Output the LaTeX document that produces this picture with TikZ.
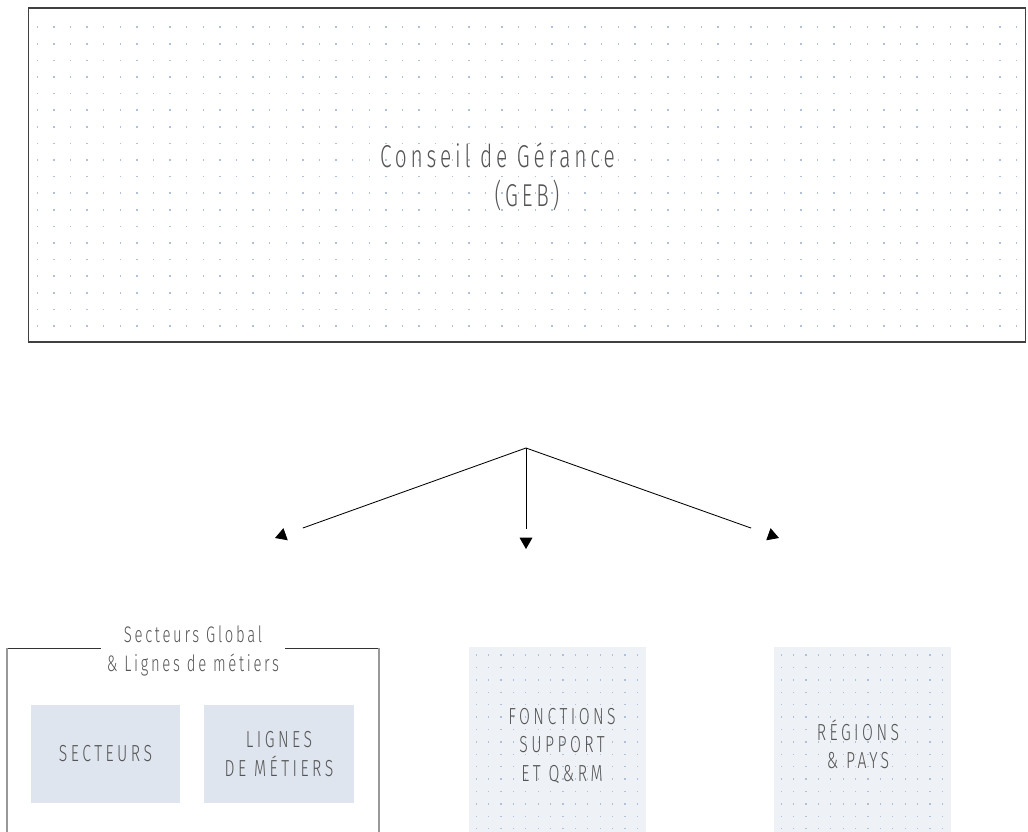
\documentclass[tikz,border=0pt]{standalone}
\usepackage{fontspec}
\newfontfamily\dinfont{Fira Sans}[UprightFont=* Light, FakeStretch=0.66, LetterSpace=12]
\newfontfamily\dinwide{Fira Sans}[UprightFont=* Light, FakeStretch=0.68, LetterSpace=15]
\usetikzlibrary{arrows.meta,positioning}

\definecolor{dotblue}{HTML}{AFC0DA}
\definecolor{paleblue}{HTML}{EEF1F6}
\definecolor{unitblue}{HTML}{DEE5EE}
\definecolor{labelgray}{HTML}{555555}

\begin{document}
\begin{tikzpicture}[x=0.025cm,y=-0.025cm,>={Triangle[length=8pt,width=9pt]},
	Edge/.style={black,line width=0.6pt},
	TipOnly/.style={->,black,line width=0.6pt,line cap=butt,dash pattern=on 0pt off 4000pt},
	Geb/.style={rectangle,draw=black!75,line width=0.8pt,minimum width=24.9cm,minimum height=8.35cm,inner sep=0pt},
	Unit/.style={rectangle,fill=unitblue,minimum width=3.725cm,minimum height=2.45cm,inner sep=0pt,
		text=labelgray,align=center,font=\dinwide\fontsize{16.5}{20}\selectfont},
	Support/.style={rectangle,fill=paleblue,minimum width=4.425cm,minimum height=4.625cm,inner sep=0pt},
	BoxText/.style={text=labelgray,align=center,font=\dinwide\fontsize{16.5}{20}\selectfont},
	TitleText/.style={text=labelgray,align=center,font=\dinfont\fontsize{22.5}{27.5}\selectfont},
	GroupText/.style={text=labelgray,align=center,inner xsep=4pt,font=\dinfont\fontsize{16}{20}\selectfont},
	FrameTop/.style={draw=black!80,line width=0.7pt},
	FrameSide/.style={draw=black!40,line width=1.1pt},
	Dot/.style={fill=dotblue},
]
	\useasboundingbox (0,0) rectangle (1028,832);

	% top board
	\node[Geb] (geb) at (527,175) {};
	\foreach \i in {0,...,59}
		\foreach \j in {0,...,18}
			\fill[Dot] (36.5+\i*16.6,26.5+\j*16.6) rectangle ++(1.5,1.5);
	\node[TitleText] (gebtext) at (527,177) {Conseil de Gérance\hspace*{42pt}\\(GEB)};

	% split (lines stop short of the tips)
	\coordinate (split) at (526,448);
	\coordinate (endL) at (275,538);
	\coordinate (endM) at (526,549);
	\coordinate (endR) at (779,538);
	\path
	(split) edge[Edge,shorten >=21pt] (endL)
	(split) edge[Edge,shorten >=14pt] (endM)
	(split) edge[Edge,shorten >=21pt] (endR)
	(split) edge[TipOnly] (endL)
	(split) edge[TipOnly] (endM)
	(split) edge[TipOnly] (endR)
	;

	% global sectors group
	\node[GroupText] (grp) at (193,651) {Secteurs Global\\\& Lignes de métiers};
	\coordinate (frameTL) at (7,648);
	\coordinate (frameTR) at (379,648);
	\draw[FrameTop] (frameTL) -- (frameTL -| grp.west);
	\draw[FrameTop] (grp.east |- frameTR) -- (frameTR);
	\draw[FrameSide] (frameTL) -- (7,832);
	\draw[FrameSide] (frameTR) -- (379,832);
	\node[Unit] (sect) at (105.5,754) {SECTEURS};
	\node[Unit] (lignes) at (279,754) {LIGNES\\DE MÉTIERS};

	% support functions
	\node[Support] (fonc) at (557.5,739.5) {};
	\node[Support] (regions) at (862.5,739.5) {};
	\foreach \i in {0,...,13}
		\foreach \j in {0,...,14} {
			\fill[Dot] (475.5+\i*12.4,654.5+\j*12.4) rectangle ++(1.3,1.3);
			\fill[Dot] (780.5+\i*12.4,654.5+\j*12.4) rectangle ++(1.3,1.3);
		}
	\node[BoxText] (fonctext) at (562,746) {FONCTIONS\\SUPPORT\\ET Q\&RM};
	\node[BoxText] (regtext) at (858,744) {RÉGIONS\\\& PAYS};
\end{tikzpicture}
\end{document}
